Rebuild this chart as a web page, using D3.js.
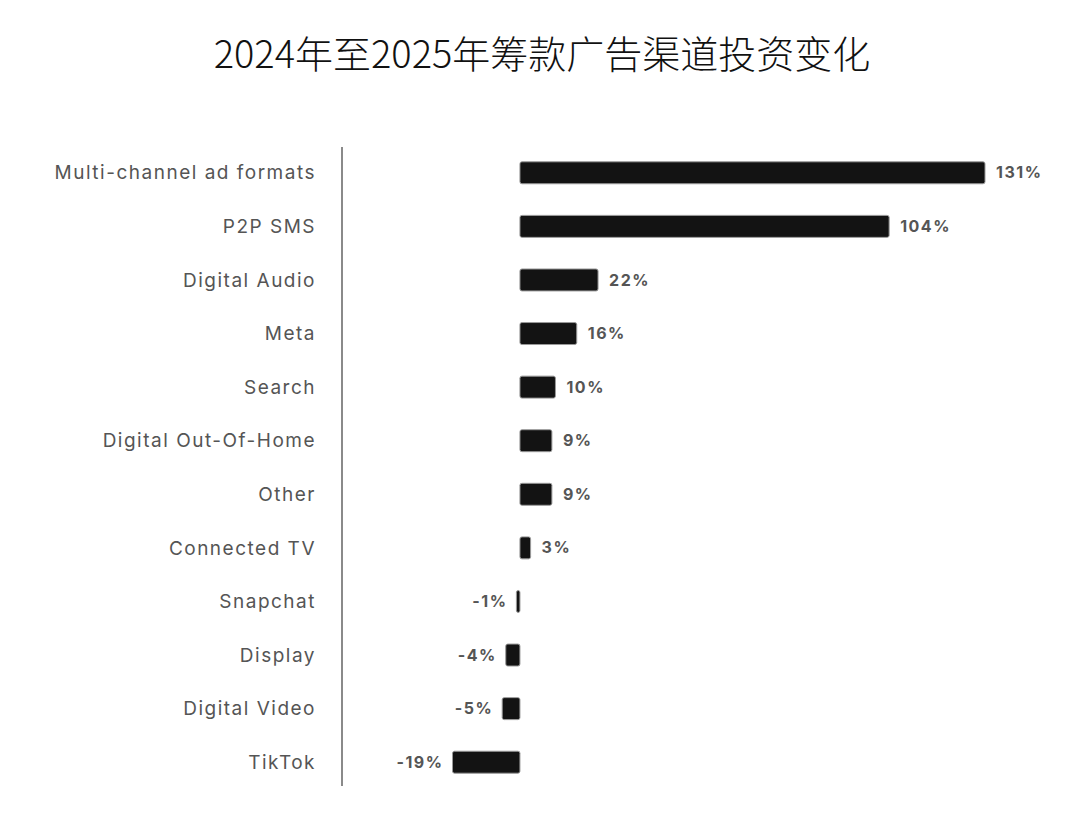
<html lang="zh">
<head>
<meta charset="UTF-8">
<title>2024年至2025年筹款广告渠道投资变化</title>
<style>
  * { margin: 0; padding: 0; }
  body { background: #fff; width: 1084px; height: 840px; overflow: hidden; }
  #title { font-family: "Noto Sans CJK SC", sans-serif; font-weight: 300; }
  .cat { font-family: Inter, "Liberation Sans", sans-serif; fill: #555; letter-spacing: 1.5px; }
  .val { font-family: Inter, "Liberation Sans", sans-serif; font-weight: 700; fill: #555; letter-spacing: 1.5px; }
</style>
</head>
<body>
<div id="chart"></div>
<script src="https://cdnjs.cloudflare.com/ajax/libs/d3/7.8.5/d3.min.js"></script>
<script>
// data
var channels = ['Multi-channel ad formats', 'P2P SMS', 'Digital Audio', 'Meta', 'Search',
  'Digital Out-Of-Home', 'Other', 'Connected TV', 'Snapchat', 'Display', 'Digital Video', 'TikTok'];
var changePct = [131, 104, 22, 16, 10, 9, 9, 3, -1, -4, -5, -19];
var chartTitle = '2024年至2025年筹款广告渠道投资变化';

var width = 1084, height = 840;
var axisX = 342;

var svg = d3.select('#chart').append('svg')
  .attr('width', width)
  .attr('height', height);

svg.append('text')
  .attr('id', 'title')
  .attr('x', width / 2)
  .attr('y', 68)
  .attr('text-anchor', 'middle')
  .attr('font-size', 38)
  .attr('fill', '#111')
  .text(chartTitle);

var x = d3.scaleLinear()
  .domain([-19, 131])
  .range([452.5, 985]);

var y = d3.scaleBand()
  .domain(channels)
  .range([146, 789])
  .paddingInner(0.59)
  .paddingOuter(0.295);

// vertical axis line
svg.append('line')
  .attr('x1', axisX).attr('x2', axisX)
  .attr('y1', 147).attr('y2', 786)
  .attr('stroke', '#8a8a8a')
  .attr('stroke-width', 2);

// category labels
svg.selectAll('.cat')
  .data(channels)
  .enter().append('text')
  .attr('class', 'cat')
  .attr('x', 316)
  .attr('y', function(d) { return y(d) + y.bandwidth() / 2; })
  .attr('dy', '0.35em')
  .attr('text-anchor', 'end')
  .attr('font-size', 19)
  .text(function(d) { return d; });

// bars
svg.selectAll('.bar')
  .data(changePct)
  .enter().append('rect')
  .attr('class', 'bar')
  .attr('x', function(d) { return Math.min(x(0), x(d)); })
  .attr('y', function(d, i) { return y(channels[i]); })
  .attr('width', function(d) { return Math.max(2, Math.abs(x(d) - x(0))); })
  .attr('height', y.bandwidth())
  .attr('rx', 2)
  .attr('fill', '#131313')
  .attr('stroke', '#9a9a9a')
  .attr('stroke-width', 1);

// value labels
svg.selectAll('.val')
  .data(changePct)
  .enter().append('text')
  .attr('class', 'val')
  .attr('x', function(d) { return d >= 0 ? x(d) + 11 : x(d) - 9; })
  .attr('y', function(d, i) { return y(channels[i]) + y.bandwidth() / 2; })
  .attr('dy', '0.35em')
  .attr('text-anchor', function(d) { return d >= 0 ? 'start' : 'end'; })
  .attr('font-size', 16)
  .text(function(d) { return d + '%'; });
</script>
</body>
</html>
